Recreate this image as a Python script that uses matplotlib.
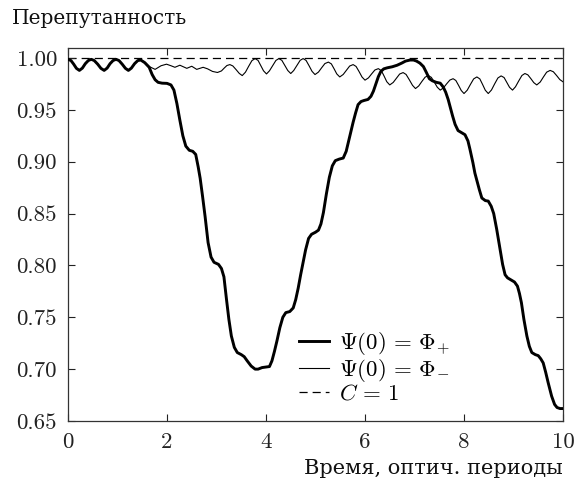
import matplotlib
matplotlib.use("Agg")
import matplotlib.pyplot as plt
from matplotlib.ticker import FormatStrFormatter

plt.rcParams['font.family'] = ['cmr10', 'DejaVu Serif']
plt.rcParams['mathtext.fontset'] = 'cm'
plt.rcParams['axes.unicode_minus'] = False

# Common start (both curves coincide up to t ~ 1.47)
t_common = [0.00, 0.06, 0.115, 0.17, 0.23, 0.29, 0.35, 0.41, 0.47, 0.53, 0.60, 0.665,
            0.73, 0.79, 0.85, 0.91, 0.97, 1.03, 1.095, 1.16, 1.22, 1.28, 1.345, 1.41, 1.47]
v_common = [0.9987, 0.9975, 0.9940, 0.9900, 0.9880, 0.9902, 0.9945, 0.9975, 0.9987, 0.9975,
            0.9940, 0.9900, 0.9880, 0.9902, 0.9945, 0.9975, 0.9987, 0.9975, 0.9940, 0.9900,
            0.9880, 0.9902, 0.9945, 0.9975, 0.9980]

# Psi(0) = Phi_+ (thick), continuation
t_plus = [1.55, 1.64, 1.70, 1.76, 1.82, 1.90, 2.00, 2.08, 2.14, 2.20, 2.26, 2.32, 2.38, 2.45,
          2.52, 2.58, 2.63, 2.67, 2.72, 2.77, 2.83, 2.89, 2.95, 3.04, 3.10, 3.15, 3.20, 3.25,
          3.30, 3.36, 3.42, 3.50, 3.56, 3.62, 3.70, 3.78, 3.84, 3.92, 4.00, 4.07, 4.12, 4.17,
          4.22, 4.28, 4.34, 4.40, 4.48, 4.55, 4.60, 4.65, 4.70, 4.75, 4.80, 4.86, 4.92, 5.00,
          5.06, 5.11, 5.16, 5.22, 5.28, 5.34, 5.40, 5.48, 5.56, 5.62, 5.66, 5.71, 5.76, 5.81,
          5.86, 5.92, 5.98, 6.06, 6.12, 6.17, 6.22, 6.27, 6.32, 6.38, 6.45, 6.55, 6.65, 6.74,
          6.82, 6.91, 6.98, 7.04, 7.11, 7.18, 7.24, 7.30, 7.36, 7.44, 7.52, 7.58, 7.63, 7.68,
          7.72, 7.77, 7.82, 7.88, 7.95, 8.02, 8.08, 8.12, 8.18, 8.22, 8.26, 8.31, 8.36, 8.43,
          8.49, 8.55, 8.60, 8.66, 8.73, 8.78, 8.83, 8.88, 8.95, 9.02, 9.08, 9.12, 9.16, 9.21,
          9.27, 9.32, 9.37, 9.44, 9.50, 9.55, 9.60, 9.65, 9.70, 9.77, 9.83, 9.88, 9.94, 10.0]
v_plus = [0.9955, 0.9910, 0.9840, 0.9790, 0.9765, 0.9757, 0.9755, 0.9740, 0.9690, 0.9560,
          0.9400, 0.9250, 0.9150, 0.9110, 0.9100, 0.9070, 0.8950, 0.8840, 0.8660, 0.8470,
          0.8220, 0.8080, 0.8030, 0.8010, 0.7970, 0.7890, 0.7680, 0.7480, 0.7320, 0.7210,
          0.7160, 0.7140, 0.7120, 0.7080, 0.7030, 0.7000, 0.7000, 0.7015, 0.7020, 0.7025,
          0.7080, 0.7170, 0.7270, 0.7400, 0.7500, 0.7545, 0.7555, 0.7590, 0.7670, 0.7780,
          0.7910, 0.8030, 0.8150, 0.8260, 0.8300, 0.8320, 0.8340, 0.8400, 0.8510, 0.8690,
          0.8850, 0.8960, 0.9010, 0.9025, 0.9035, 0.9100, 0.9180, 0.9280, 0.9380, 0.9470,
          0.9550, 0.9580, 0.9590, 0.9600, 0.9630, 0.9680, 0.9750, 0.9820, 0.9870, 0.9895,
          0.9905, 0.9915, 0.9930, 0.9950, 0.9970, 0.9980, 0.9980, 0.9970, 0.9950, 0.9917,
          0.9860, 0.9800, 0.9780, 0.9765, 0.9757, 0.9720, 0.9670, 0.9600, 0.9530, 0.9440,
          0.9360, 0.9300, 0.9280, 0.9260, 0.9200, 0.9120, 0.8990, 0.8890, 0.8820, 0.8730,
          0.8650, 0.8625, 0.8620, 0.8570, 0.8500, 0.8350, 0.8150, 0.8010, 0.7910, 0.7880,
          0.7860, 0.7840, 0.7800, 0.7730, 0.7640, 0.7480, 0.7320, 0.7220, 0.7160, 0.7140,
          0.7130, 0.7100, 0.7060, 0.6970, 0.6870, 0.6740, 0.6660, 0.6630, 0.6620, 0.6620]

# Psi(0) = Phi_- (thin), continuation
t_minus = [1.56, 1.65, 1.76, 1.88, 1.99, 2.08, 2.16, 2.26, 2.33, 2.40, 2.50, 2.60, 2.73,
           2.82, 2.92, 3.02, 3.10, 3.155, 3.21, 3.27, 3.33, 3.395, 3.46, 3.52, 3.585, 3.65,
           3.715, 3.78, 3.84, 3.895, 3.95, 4.01, 4.07, 4.135, 4.20, 4.26, 4.32, 4.38, 4.44,
           4.50, 4.56, 4.625, 4.69, 4.75, 4.81, 4.87, 4.93, 4.99, 5.06, 5.125, 5.19, 5.26,
           5.32, 5.375, 5.43, 5.49, 5.56, 5.625, 5.69, 5.76, 5.82, 5.88, 5.94, 6.00, 6.07,
           6.135, 6.20, 6.27, 6.33, 6.385, 6.44, 6.50, 6.57, 6.635, 6.70, 6.77, 6.83, 6.895,
           6.96, 7.02, 7.085, 7.15, 7.215, 7.28, 7.34, 7.40, 7.46, 7.52, 7.585, 7.65, 7.715,
           7.78, 7.835, 7.89, 7.945, 8.00, 8.065, 8.13, 8.195, 8.26, 8.32, 8.375, 8.43, 8.49,
           8.555, 8.62, 8.685, 8.75, 8.81, 8.865, 8.92, 8.98, 9.04, 9.105, 9.17, 9.23, 9.29,
           9.35, 9.41, 9.47, 9.54, 9.605, 9.67, 9.74, 9.805, 9.87, 9.935, 10.0]
v_minus = [0.9955, 0.9915, 0.9890, 0.9925, 0.9940, 0.9925, 0.9910, 0.9930, 0.9915, 0.9900,
           0.9920, 0.9890, 0.9910, 0.9895, 0.9870, 0.9860, 0.9875, 0.9902, 0.9927, 0.9936,
           0.9923, 0.9888, 0.9851, 0.9830, 0.9863, 0.9920, 0.9974, 0.9994, 0.9976, 0.9927,
           0.9876, 0.9846, 0.9876, 0.9927, 0.9976, 0.9994, 0.9977, 0.9929, 0.9879, 0.9850,
           0.9879, 0.9929, 0.9977, 0.9994, 0.9976, 0.9925, 0.9871, 0.9840, 0.9864, 0.9906,
           0.9946, 0.9960, 0.9943, 0.9896, 0.9846, 0.9817, 0.9841, 0.9882, 0.9922, 0.9936,
           0.9918, 0.9869, 0.9816, 0.9786, 0.9808, 0.9847, 0.9884, 0.9897, 0.9878, 0.9826,
           0.9771, 0.9740, 0.9764, 0.9805, 0.9845, 0.9859, 0.9841, 0.9790, 0.9736, 0.9705,
           0.9730, 0.9774, 0.9815, 0.9830, 0.9813, 0.9767, 0.9718, 0.9690, 0.9712, 0.9751,
           0.9787, 0.9800, 0.9783, 0.9736, 0.9686, 0.9657, 0.9689, 0.9745, 0.9798, 0.9817,
           0.9798, 0.9745, 0.9689, 0.9657, 0.9691, 0.9751, 0.9807, 0.9827, 0.9811, 0.9765,
           0.9717, 0.9690, 0.9722, 0.9778, 0.9831, 0.9850, 0.9837, 0.9801, 0.9762, 0.9740,
           0.9768, 0.9817, 0.9863, 0.9880, 0.9867, 0.9831, 0.9792, 0.9770]

t_const = [0.0, 10.0]
v_const = [1.0, 1.0]

labels = [r'$\Psi(0)\,=\,\Phi_{\!+}$', r'$\Psi(0)\,=\,\Phi_{\!-}$', r'$C\,=\,1$']
x_ticks = [0, 2, 4, 6, 8, 10]
y_ticks = [0.65, 0.70, 0.75, 0.80, 0.85, 0.90, 0.95, 1.00]

fig = plt.figure(figsize=(5.85, 4.86), dpi=100)
ax = fig.add_axes([68/585, 1 - 421/486, (563 - 68)/585, (421 - 48)/486])

ax.plot(t_common + t_plus, v_common + v_plus, color='black', lw=2.1,
        solid_joinstyle='round', label=labels[0], zorder=3)
ax.plot(t_common + t_minus, v_common + v_minus, color='black', lw=0.8,
        label=labels[1], zorder=2)
ax.plot(t_const, v_const, color='black', lw=0.9, dashes=(6.5, 4.0),
        label=labels[2], zorder=1)

ax.set_xlim(0, 10)
ax.set_ylim(0.65, 1.0096)
ax.set_xticks(x_ticks)
ax.set_yticks(y_ticks)
ax.yaxis.set_major_formatter(FormatStrFormatter('%.2f'))
ax.tick_params(direction='in', length=5, width=0.8, top=True, right=True,
               labelsize=16.5, pad=8, colors='#222222')
for sp in ax.spines.values():
    sp.set_color('#333333')
    sp.set_linewidth(0.9)

leg = ax.legend(loc='upper left', bbox_to_anchor=(0.467, 0.245), frameon=False,
                fontsize=16.5, handlelength=1.3, handletextpad=0.45, labelspacing=0.0,
                borderpad=0, borderaxespad=0)

fig.text(12/585, 1 - 18/486, 'Перепутанность', family=['DejaVu Serif'],
         fontsize=14.5, va='center', ha='left', color='#111111')
fig.text(563/585, 1 - 468/486, 'Время, оптич. периоды', family=['DejaVu Serif'],
         fontsize=15, va='center', ha='right', color='#111111')

fig.savefig('out.png', dpi=100)
